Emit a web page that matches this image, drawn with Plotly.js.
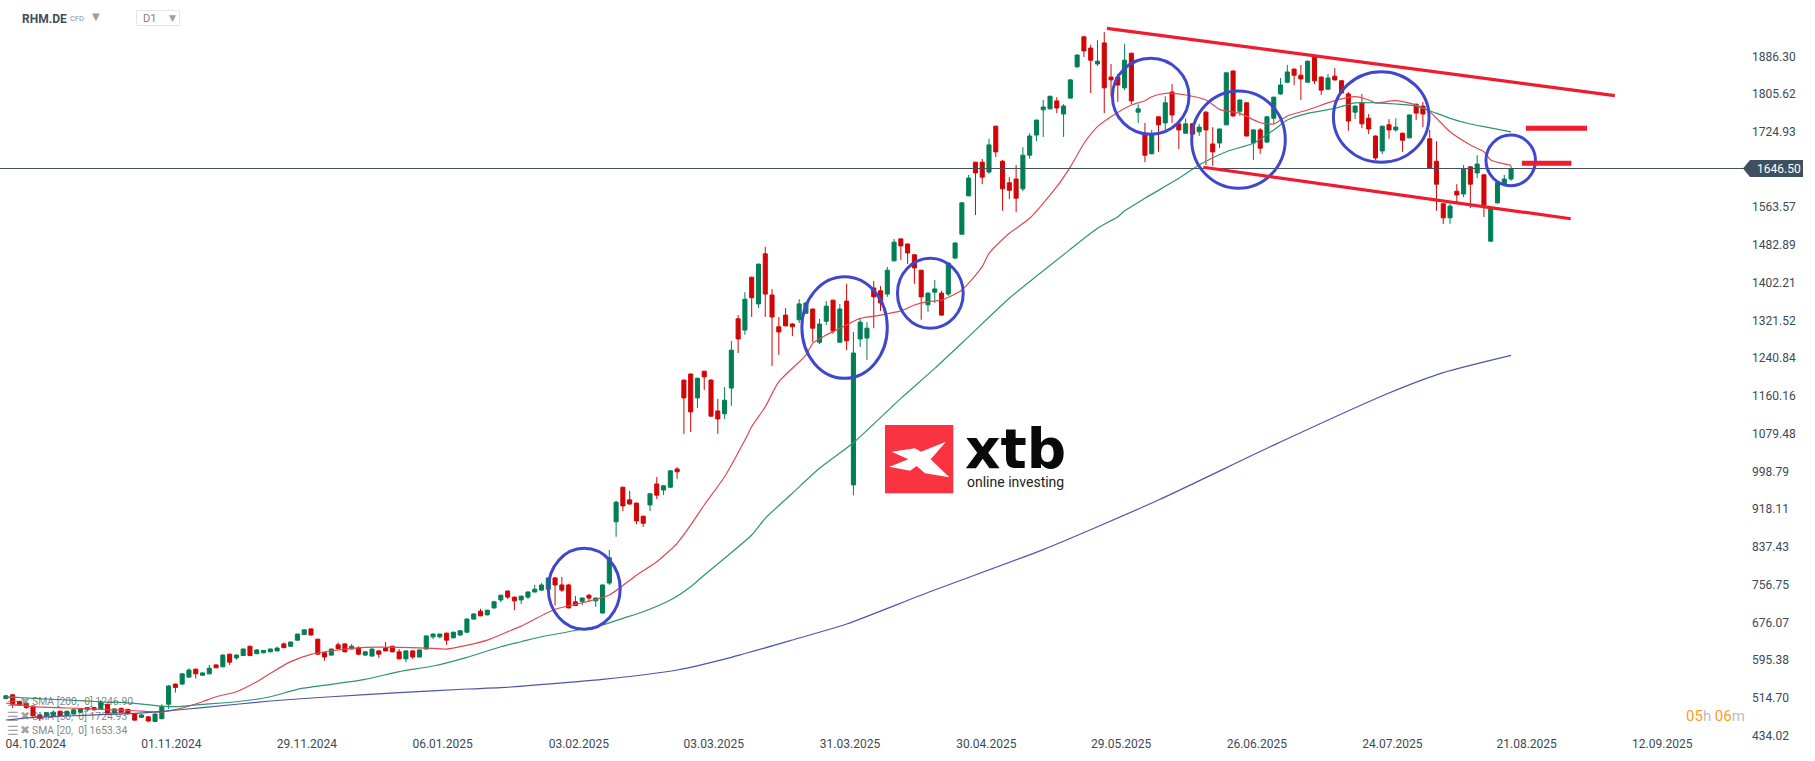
<!DOCTYPE html>
<html>
<head>
<meta charset="utf-8">
<script src="https://cdn.plot.ly/plotly-3.0.1.min.js"></script>
<style>html,body{margin:0;padding:0;background:#fff;overflow:hidden}</style>
</head>
<body>
<div id="chart" style="width:1815px;height:761px"></div>
<script>
// daily candles (price units)
var openP = [513,521,507,503,497,478,476,477,486,477,
480,484,489,494,491,501,482,492,490,480,
473,474,464,470,501,544,544,559,576,563,
566,585,581,608,600,605,625,609,611,613,
615,630,625,638,650,662,640,611,606,628,
630,619,621,606,604,615,621,625,613,598,
615,602,619,645,645,653,643,649,655,683,
700,692,707,724,743,730,724,730,741,745,
747,771,756,756,720,721,734,722,696,760,
891,965,938,931,903,927,972,959,965,1004,
1194,1207,1156,1213,1194,1128,1122,1177,1325,1301,
1414,1357,1464,1376,1308,1333,1314,1323,1337,1346,
1275,1320,1365,1275,1363,970,1282,1284,1391,1385,
1378,1449,1496,1485,1462,1429,1355,1382,1380,1378,
1455,1506,1588,1660,1660,1639,1737,1662,1616,1624,
1603,1675,1718,1772,1774,1791,1763,1797,1864,1928,
1904,1870,1915,1842,1842,1819,1893,1767,1720,1678,
1757,1744,1810,1742,1722,1742,1725,1767,1699,1701,
1740,1855,1769,1787,1701,1729,1703,1754,1806,1831,
1859,1846,1831,1885,1842,1816,1844,1834,1806,1767,
1787,1754,1716,1684,1740,1729,1722,1712,1784,1780,
1710,1662,1571,1541,1598,1592,1650,1637,1633,1491,
1573,1613,1624];
var highP = [520,523,508,504,498,479,484,488,487,487,
490,492,495,495,510,502,492,494,491,481,
480,475,481,501,542,545,567,578,577,569,
585,586,608,609,608,620,626,619,617,620,
624,633,635,652,661,663,641,612,620,633,
631,630,625,615,620,616,634,626,619,616,
616,618,648,652,652,654,656,659,685,696,
705,703,722,735,744,731,733,742,756,760,
772,773,773,758,732,729,737,729,757,831,
936,966,957,932,904,952,987,970,1001,1008,
1195,1208,1199,1214,1196,1154,1179,1278,1333,1382,
1415,1443,1479,1389,1329,1348,1316,1367,1361,1347,
1325,1363,1366,1357,1400,1297,1325,1318,1406,1395,
1436,1496,1497,1486,1463,1430,1382,1408,1385,1445,
1489,1575,1633,1661,1667,1710,1738,1665,1628,1654,
1692,1722,1751,1793,1802,1799,1784,1838,1891,1930,
1911,1921,1938,1870,1849,1913,1894,1784,1744,1729,
1758,1801,1827,1743,1754,1743,1742,1769,1735,1732,
1852,1856,1794,1788,1731,1733,1759,1800,1840,1868,
1860,1868,1877,1886,1843,1849,1861,1836,1810,1781,
1806,1763,1717,1738,1752,1754,1723,1762,1785,1789,
1729,1705,1572,1571,1613,1654,1651,1675,1634,1561,
1617,1633,1652];
var lowP = [512,493,498,491,475,465,475,476,476,476,
479,483,485,488,490,481,481,483,478,465,
472,463,463,469,491,526,543,557,556,562,
565,578,580,585,596,604,604,608,610,612,
614,621,624,637,649,648,607,594,605,619,
612,618,606,604,603,600,614,612,597,591,
598,601,618,640,642,628,642,647,654,682,
689,691,705,719,726,702,715,726,740,743,
746,712,741,706,711,713,720,709,695,756,
859,914,928,886,880,914,940,948,964,983,
1079,1083,1134,1173,1116,1079,1111,1139,1252,1291,
1329,1348,1329,1224,1248,1309,1288,1316,1336,1275,
1271,1312,1293,1274,1258,948,1265,1237,1305,1342,
1372,1448,1451,1442,1400,1323,1340,1359,1332,1374,
1453,1505,1587,1547,1613,1635,1671,1556,1581,1553,
1598,1667,1705,1714,1773,1765,1714,1796,1861,1885,
1808,1866,1765,1801,1789,1814,1784,1744,1660,1677,
1682,1729,1744,1688,1721,1707,1716,1654,1652,1690,
1739,1757,1759,1715,1665,1678,1701,1742,1804,1829,
1825,1793,1830,1827,1804,1815,1834,1806,1727,1752,
1733,1720,1665,1677,1710,1725,1682,1711,1750,1735,
1646,1556,1528,1528,1575,1585,1562,1626,1543,1490,
1571,1612,1620];
var closeP = [519,501,499,494,476,471,483,484,477,486,
489,491,494,489,505,482,491,484,482,467,
478,465,480,496,540,537,566,574,566,568,
578,579,606,591,606,619,605,617,616,619,
621,622,634,651,660,649,608,602,619,620,
613,625,608,613,619,608,615,613,598,615,
602,617,647,651,651,638,655,658,683,694,
690,702,720,734,730,722,732,741,747,756,
771,756,745,707,712,728,728,728,756,814,
933,925,929,893,888,951,948,968,1000,998,
1156,1126,1198,1201,1117,1111,1151,1258,1282,1367,
1370,1442,1378,1329,1297,1310,1308,1357,1359,1305,
1314,1352,1299,1346,1278,1252,1318,1305,1372,1359,
1429,1489,1481,1466,1434,1372,1380,1389,1333,1444,
1487,1573,1626,1637,1628,1697,1682,1603,1600,1583,
1675,1716,1750,1778,1801,1776,1780,1836,1889,1898,
1878,1876,1819,1836,1825,1878,1791,1774,1675,1720,
1740,1787,1761,1729,1742,1720,1735,1729,1682,1731,
1851,1759,1793,1716,1729,1690,1757,1799,1825,1853,
1846,1838,1876,1834,1814,1840,1836,1808,1748,1780,
1742,1731,1669,1737,1729,1735,1707,1761,1765,1763,
1648,1613,1541,1566,1590,1645,1613,1656,1568,1560,
1616,1624,1646.5];

// moving averages, sampled at the bars where they could be read
var sma20Idx = [0,4,9,14,19,23,26,29,31,34,37,39,42,45,48,53,58,62,65,67,71,74,76,81,85,89,93,96,99,101,103,106,109,110,112,114,118,119,121,123,126,129,132,134,136,138,141,144,145,148,151,155,157,159,161,163,166,168,169,171,174,177,179,182,185,187,189,192,196,199,201,202,205,208,210,213,216,218,219,222];
var sma20Val = [503.6,495.7,492.9,490,487,484.3,492.9,506.3,517,527.7,549,567,592,607.7,615.4,622.7,622.7,621,619,624,638,656,668,704,718,734.5,777,805.7,845,884,927,987.5,1066,1094.4,1137,1190.6,1247.7,1272.7,1290.5,1304.8,1326,1333,1342,1354.6,1361.7,1365,1386.7,1436.5,1465,1508,1540,1607.6,1650,1700,1735.9,1757.3,1782.3,1791.5,1800,1807.3,1803.7,1793,1773,1764.5,1744.4,1741.6,1758.8,1771.6,1791.5,1800,1793,1787,1791.5,1782.3,1768,1725,1696.7,1682.4,1664.7,1653.34];
var sma50Idx = [0,4,9,14,19,23,25,29,34,39,43,48,53,58,63,68,73,76,79,83,88,91,94,98,101,103,106,110,112,116,120,125,132,137,142,148,157,161,164,165,168,173,176,180,184,187,189,192,196,199,202,205,208,210,213,216,218,222];
var sma50Val = [517,513.4,510,506.3,503,497,495.7,500.8,506.3,517,532.9,543.6,554.3,570.5,582.7,601.3,623.9,634.6,645.3,656,670.3,684.7,698.8,723.8,752.3,777.3,813,862.8,898.5,952,1005.4,1060,1155,1219,1287,1369,1473.7,1518.6,1543.4,1556,1582.8,1625.5,1654,1682.4,1700.4,1728.8,1750.2,1764.5,1775,1787,1787,1784.4,1780,1770,1753.8,1741.6,1735.9,1724.93];
var sma200Idx = [0,4,9,14,19,23,29,39,48,58,68,73,88,99,107,116,124,136,153,170,187,204,212,222];
var sma200Val = [467.2,473,475.8,478.6,481.6,485.8,493.5,507.9,517,525.6,533.5,536.3,554.3,574.2,601.3,638.3,672.5,740,831.6,937.6,1055,1166.4,1210,1246.9];

var dateTicks = [4.4,24.4,44.4,64.4,84.5,104.4,124.5,144.6,164.5,184.5,204.5,224.3,244.3];
var dateLabels = ['04.10.2024','01.11.2024','29.11.2024','06.01.2025','03.02.2025','03.03.2025','31.03.2025','30.04.2025','29.05.2025','26.06.2025','24.07.2025','21.08.2025','12.09.2025'];
var priceTicks = [1886.30,1805.62,1724.93,1563.57,1482.89,1402.21,1321.52,1240.84,1160.16,1079.48,998.79,918.11,837.43,756.75,676.07,595.38,514.70,434.02];

var lastPrice = 1646.50;

// drawn channel and levels [x0, y0, x1, y1]
var channelTop = [162.4,1946.3,237.3,1802.2];
var channelBottom = [176.6,1649.1,230.8,1539];
var levelUpper = [224.2,1732.5,233.2,1732.5];
var levelLower = [223.6,1657.6,230.9,1657.6];

// circles [x0, x1, y0, y1]
var circles = [
  [80.0,90.6,661.2,834.4],
  [117.4,130,1197.9,1415.1],
  [131.5,141.2,1304.8,1454.5],
  [163.2,174.5,1719.6,1882.1],
  [174.9,188.7,1604.2,1812.2],
  [195.8,209.9,1659.8,1853.5],
  [218.3,225.6,1609.7,1718.1]
];

var W = 1751, H = 737; // plot area in pixels
function px(x) { return x / W; }
function py(y) { return 1 - y / H; }
function pathFrom(points) {
  var s = '';
  for (var i = 0; i < points.length; i++) {
    s += (i == 0 ? 'M' : 'L') + px(points[i][0]).toFixed(5) + ',' + py(points[i][1]).toFixed(5) + ' ';
  }
  return s + 'Z';
}

var indices = [];
for (var i = 0; i < closeP.length; i++) indices.push(i);

var greenC = '#007f56', redC = '#d10606';

var traces = [
  {
    type: 'candlestick', x: indices, open: openP, high: highP, low: lowP, close: closeP,
    increasing: {line: {color: greenC, width: 1}, fillcolor: greenC},
    decreasing: {line: {color: redC, width: 1}, fillcolor: redC},
    whiskerwidth: 0, hoverinfo: 'skip', showlegend: false
  },
  {type: 'scatter', mode: 'lines', x: sma20Idx, y: sma20Val, line: {color: '#e2484e', width: 1.2, shape: 'spline', smoothing: 0.6}, showlegend: false, hoverinfo: 'skip'},
  {type: 'scatter', mode: 'lines', x: sma50Idx, y: sma50Val, line: {color: '#2f9472', width: 1.2, shape: 'spline', smoothing: 0.6}, showlegend: false, hoverinfo: 'skip'},
  {type: 'scatter', mode: 'lines', x: sma200Idx, y: sma200Val, line: {color: '#4d55ad', width: 1.2, shape: 'spline', smoothing: 0.6}, showlegend: false, hoverinfo: 'skip'}
];

var shapes = [];
shapes.push({type: 'line', xref: 'paper', yref: 'y', x0: 0, x1: 1, y0: lastPrice, y1: lastPrice, line: {color: '#3f5160', width: 1}});
circles.forEach(function (c) {
  shapes.push({type: 'circle', xref: 'x', yref: 'y', x0: c[0], x1: c[1], y0: c[2], y1: c[3], line: {color: '#3f48cc', width: 3}});
});
[channelTop, channelBottom].forEach(function (l) {
  shapes.push({type: 'line', xref: 'x', yref: 'y', x0: l[0], y0: l[1], x1: l[2], y1: l[3], line: {color: '#ee1c2e', width: 3.2}});
});
[levelUpper, levelLower].forEach(function (l) {
  shapes.push({type: 'line', xref: 'x', yref: 'y', x0: l[0], y0: l[1], x1: l[2], y1: l[3], line: {color: '#ee1c2e', width: 5}});
});
// last price tag
shapes.push({type: 'path', xref: 'paper', yref: 'paper', fillcolor: '#3f5160', line: {width: 0},
  path: pathFrom([[1743,168.5],[1750,160],[1803,160],[1803,177],[1750,177]])});
// logo square and mark
shapes.push({type: 'rect', xref: 'paper', yref: 'paper', x0: px(885), x1: px(953.3), y0: py(493.3), y1: py(425), fillcolor: '#f93340', line: {width: 0}});
var markZ = [[95,125],[165,115],[183,125],[258,95],[212,148],[268,202],[195,190],[170,168],[150,182],[88,170],[145,148]];
shapes.push({type: 'path', xref: 'paper', yref: 'paper', fillcolor: '#ffffff', line: {width: 0},
  path: pathFrom(markZ.map(function (p) { return [860 + p[0] / 3, 410 + p[1] / 3]; }))});
// timeframe box
shapes.push({type: 'rect', xref: 'paper', yref: 'paper', x0: px(136.5), x1: px(179.5), y0: py(25.5), y1: py(10.5), fillcolor: '#ffffff', line: {color: '#e3e5e7', width: 1}});

function note(x, y, text, size, color, anchor, family) {
  return {xref: 'paper', yref: 'paper', x: px(x), y: py(y), text: text, showarrow: false,
    xanchor: anchor || 'left', yanchor: 'middle', font: {family: family || 'Roboto', size: size, color: color}};
}

var legendGrey = 'rgba(90,90,90,0.75)', iconGrey = 'rgba(120,120,120,0.7)';
var annotations = [
  note(20, 19, '<b>RHM.DE</b>', 12, '#3d4f5c'),
  note(68, 19, 'CFD', 7.5, '#8a9299'),
  note(90, 16, '▼', 10, '#9aa0a5', 'left', 'DejaVu Sans'),
  note(141, 19, 'D1', 11, '#7a858e'),
  note(167, 18, '▼', 9, '#9aa0a5', 'left', 'DejaVu Sans'),
  note(1755, 168.5, '1646.50', 12, '#ffffff'),
  note(1747, 716, '<span style="color:#ff9a1f">05</span>h <span style="color:#ff9a1f">06</span>m', 15, '#bdbdbd', 'right'),
  note(1015, 449, '<b>xtb</b>', 55, '#0a0a0a', 'center', 'DejaVu Sans'),
  note(1015, 482, 'online investing', 14, '#222222', 'center'),
  note(30, 701.7, 'SMA\u00a0[200,\u00a0\u00a00]\u00a01246.90', 10.4, legendGrey),
  note(30, 716, 'SMA\u00a0[50,\u00a0\u00a00]\u00a01724.93', 10.4, legendGrey),
  note(30, 730, 'SMA\u00a0[20,\u00a0\u00a00]\u00a01653.34', 10.4, legendGrey),
  note(5, 701.7, '☰', 13, iconGrey, 'left', 'DejaVu Sans'),
  note(5, 716, '☰', 13, iconGrey, 'left', 'DejaVu Sans'),
  note(5, 730, '☰', 13, iconGrey, 'left', 'DejaVu Sans'),
  note(18, 701.7, '✖', 12, iconGrey, 'left', 'DejaVu Sans'),
  note(18, 716, '✖', 12, iconGrey, 'left', 'DejaVu Sans'),
  note(18, 730, '✖', 12, iconGrey, 'left', 'DejaVu Sans')
];

var layout = {
  width: 1815, height: 761,
  margin: {l: 0, r: 1815 - W, t: 0, b: 761 - H, pad: 0},
  paper_bgcolor: '#ffffff', plot_bgcolor: '#ffffff',
  showlegend: false, dragmode: false, boxgap: 0.4, boxgroupgap: 0,
  xaxis: {
    type: 'linear', range: [-0.87, 257.39], rangeslider: {visible: false},
    tickmode: 'array', tickvals: dateTicks, ticktext: dateLabels,
    showgrid: false, zeroline: false, showline: false, ticks: '',
    tickangle: 0, ticklabelstandoff: -2, tickfont: {family: 'Roboto', size: 12, color: '#3c4a54'}
  },
  yaxis: {
    side: 'right', range: [430.9, 2006.8],
    tickmode: 'array', tickvals: priceTicks, ticktext: priceTicks.map(function (v) { return v.toFixed(2); }),
    showgrid: false, zeroline: false, showline: false, ticks: '',
    tickfont: {family: 'Roboto', size: 12, color: '#3c4a54'}
  },
  shapes: shapes,
  annotations: annotations
};

Plotly.newPlot('chart', traces, layout, {displayModeBar: false, staticPlot: true});
</script>
</body>
</html>
